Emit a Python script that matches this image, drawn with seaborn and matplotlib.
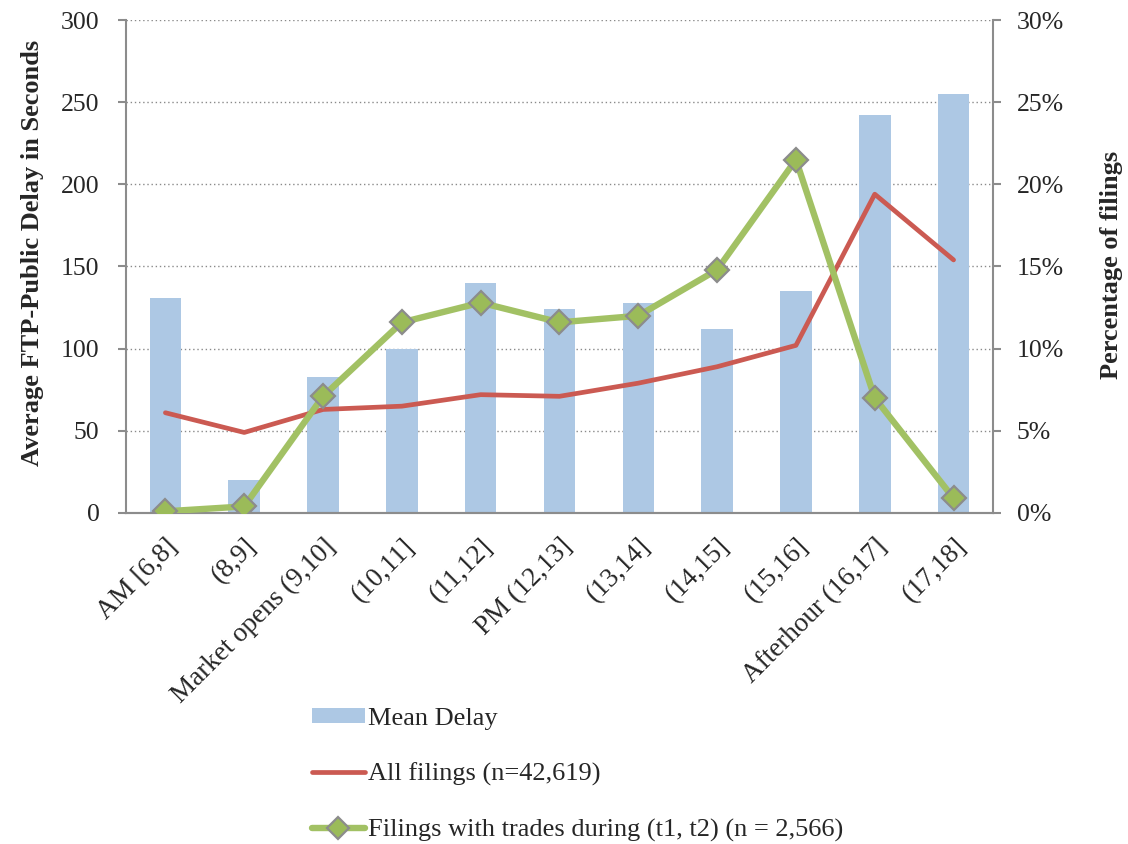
import numpy as np
import pandas as pd
import matplotlib
matplotlib.use("Agg")
import matplotlib.pyplot as plt
import seaborn as sns
from matplotlib.lines import Line2D
from matplotlib.patches import Patch
from matplotlib.ticker import FuncFormatter, MultipleLocator

categories = ["AM [6,8]", "(8,9]", "Market opens (9,10]", "(10,11]", "(11,12]",
              "PM (12,13]", "(13,14]", "(14,15]", "(15,16]", "Afterhour (16,17]", "(17,18]"]
mean_delay = [131, 20, 83, 100, 140, 124, 128, 112, 135, 242, 255]
all_filings_pct = [6.1, 4.9, 6.3, 6.5, 7.2, 7.1, 7.9, 8.9, 10.2, 19.4, 15.4]
trade_filings_pct = [0.1, 0.4, 7.1, 11.6, 12.8, 11.6, 12.0, 14.8, 21.5, 7.0, 0.9]

label_bar = "Mean Delay"
label_all = "All filings (n=42,619)"
label_trade = "Filings with trades during (t1, t2) (n = 2,566)"

df = pd.DataFrame({
    "slot": categories,
    "pos": np.arange(len(categories)),
    "delay": mean_delay,
    "all": all_filings_pct,
    "trade": trade_filings_pct,
})

sns.set_theme(style="white")
plt.rcParams["font.family"] = ["Liberation Serif", "DejaVu Serif"]

bar_color = "#adc8e4"
red = "#cb5a52"
green = "#a2c164"
gray = "#8c8c8c"

fig = plt.figure(figsize=(11.28, 8.44), dpi=100)
ax = fig.add_axes([0.1117, 0.3922, 0.7686, 0.5841])

sns.barplot(data=df, x="slot", y="delay", ax=ax, color=bar_color, width=0.4,
            saturation=1, linewidth=0)
ax.set_ylim(0, 300)
ax.set_xlim(-0.5, len(categories) - 0.5)
ax.yaxis.set_major_locator(MultipleLocator(50))
ax.grid(axis="y", linestyle=(0, (1, 2)), color="#8a8a8a", linewidth=1.0)
ax.set_axisbelow(True)

ax2 = ax.twinx()
sns.lineplot(data=df, x="pos", y="all", ax=ax2, color=red, linewidth=3.4,
             sort=False, zorder=3, solid_capstyle="round", solid_joinstyle="round")
sns.lineplot(data=df, x="pos", y="trade", ax=ax2, color=green, linewidth=4.6,
             marker="D", markersize=12, markerfacecolor="#9bbb59",
             markeredgecolor=gray, markeredgewidth=1.6, sort=False, zorder=4,
             solid_capstyle="round", solid_joinstyle="round")
ax2.set_ylim(0, 30)
ax2.yaxis.set_major_locator(MultipleLocator(5))
ax2.yaxis.set_major_formatter(FuncFormatter(lambda v, p: f"{v:.0f}%"))
ax2.set_xlim(-0.5, len(categories) - 0.5)
ax2.grid(False)

for a in (ax, ax2):
    for s in a.spines.values():
        s.set_color(gray)
        s.set_linewidth(1.5)
    a.spines["top"].set_visible(False)
ax.spines["right"].set_visible(False)
ax2.spines["left"].set_visible(False)

ax.set_xticks(np.arange(len(categories)))
ax.set_xticklabels(categories, rotation=45, ha="right", rotation_mode="anchor",
                   fontsize=19.5)
ax.set_xticks(np.arange(len(categories) + 1) - 0.5, minor=True)
ax.tick_params(axis="x", which="major", length=0, pad=15)
ax.tick_params(axis="x", which="minor", length=7, width=1.5, color=gray, direction="out")
ax.tick_params(axis="y", which="major", length=6, width=1.5, color=gray,
               direction="out", labelsize=18.5, left=True, pad=13)
ax2.tick_params(axis="y", which="major", length=6, width=1.5, color=gray,
                direction="out", labelsize=18.5, right=True, pad=11)

ax.set_xlabel("")
ax.set_ylabel("Average FTP-Public Delay in Seconds", fontsize=19, fontweight="bold")
ax.yaxis.set_label_coords(-0.095, 0.527)
ax2.set_xlabel("")
ax2.set_ylabel("Percentage of filings", fontsize=19, fontweight="bold")
ax2.yaxis.set_label_coords(1.124, 0.503)

handles = [
    Patch(facecolor=bar_color, edgecolor="none"),
    Line2D([], [], color=red, linewidth=3.4, solid_capstyle="round"),
    Line2D([], [], color=green, linewidth=4.6, marker="D", markersize=11,
           markerfacecolor="#9bbb59", markeredgecolor=gray, markeredgewidth=1.6,
           solid_capstyle="round"),
]
if ax2.get_legend() is not None:
    ax2.get_legend().remove()
fig.legend(handles, [label_bar, label_all, label_trade], loc="upper left",
           bbox_to_anchor=(0.267, 0.174), frameon=False, fontsize=19,
           handlelength=2.0, handleheight=0.5, handletextpad=0.15,
           labelspacing=1.25, borderaxespad=0)

fig.savefig("out.png", dpi=100)
